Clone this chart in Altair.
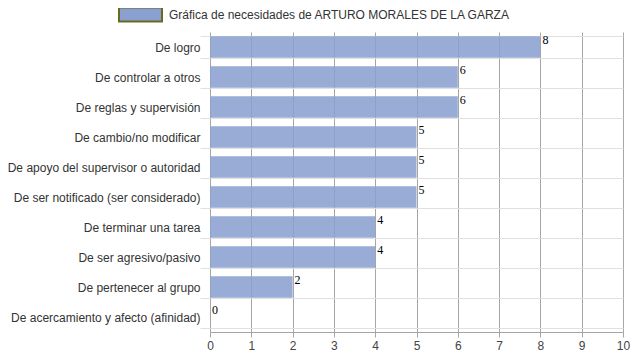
import altair as alt
import pandas as pd

categories = [
    "De logro",
    "De controlar a otros",
    "De reglas y supervisión",
    "De cambio/no modificar",
    "De apoyo del supervisor o autoridad",
    "De ser notificado (ser considerado)",
    "De terminar una tarea",
    "De ser agresivo/pasivo",
    "De pertenecer al grupo",
    "De acercamiento y afecto (afinidad)",
]
values = [8, 6, 6, 5, 5, 5, 4, 4, 2, 0]
series_name = "Gráfica de necesidades de ARTURO MORALES DE LA GARZA"
x_ticks = list(range(0, 11))

df = pd.DataFrame({"cat": categories, "val": values, "serie": [series_name] * len(values)})

FONT = "Liberation Sans"

y_enc = alt.Y(
    "cat:N",
    sort=categories,
    title=None,
    scale=alt.Scale(paddingInner=0.28, paddingOuter=0.14),
    axis=alt.Axis(
        tickBand="extent",
        grid=True,
        gridColor="#e0e0e0",
        tickColor="#e0e0e0",
        tickSize=10,
        domain=False,
        labelPadding=0,
        labelFont=FONT,
        labelFontSize=12,
        labelColor="#333333",
        labelLimit=400,
    ),
)

x_enc = alt.X(
    "val:Q",
    title=None,
    scale=alt.Scale(domain=[0, 10], nice=False),
    axis=alt.Axis(
        values=x_ticks,
        grid=True,
        gridColor="#a6a6a6",
        tickColor="#a6a6a6",
        domainColor="#a6a6a6",
        tickSize=5,
        labelPadding=3,
        labelFont=FONT,
        labelFontSize=12,
        labelColor="#444444",
        labelFlush=False,
    ),
)

bars = alt.Chart(df).mark_bar(opacity=0.88).encode(
    y=y_enc,
    x=x_enc,
    color=alt.Color(
        "serie:N",
        scale=alt.Scale(range=["#8aa0d0"]),
        legend=alt.Legend(
            title=None,
            orient="none",
            legendX=-92,
            legendY=-40,
            symbolType="M-1,-0.33H1V0.33H-1Z",
            symbolSize=1849,
            symbolStrokeColor="#6b6b1f",
            symbolStrokeWidth=2,
            symbolOpacity=1,
            labelFont=FONT,
            labelFontSize=12,
            labelColor="#333333",
            labelOffset=6,
            labelLimit=500,
            padding=0,
        ),
    ),
)

labels = alt.Chart(df).mark_text(
    align="left", baseline="middle", dx=2, dy=-7,
    font="Liberation Serif", fontSize=12, color="#000000"
).encode(
    y=alt.Y("cat:N", sort=categories),
    x="val:Q",
    text="val:Q",
)

chart = (
    alt.layer(bars, labels)
    .properties(
        width=413,
        height=300,
        autosize=alt.AutoSizeParams(type="none"),
        padding={"left": 202, "top": 24, "right": 8, "bottom": 20},
    )
    .configure_view(stroke=None)
)

chart.save("out.html", embed_options={"renderer": "svg", "actions": False})
